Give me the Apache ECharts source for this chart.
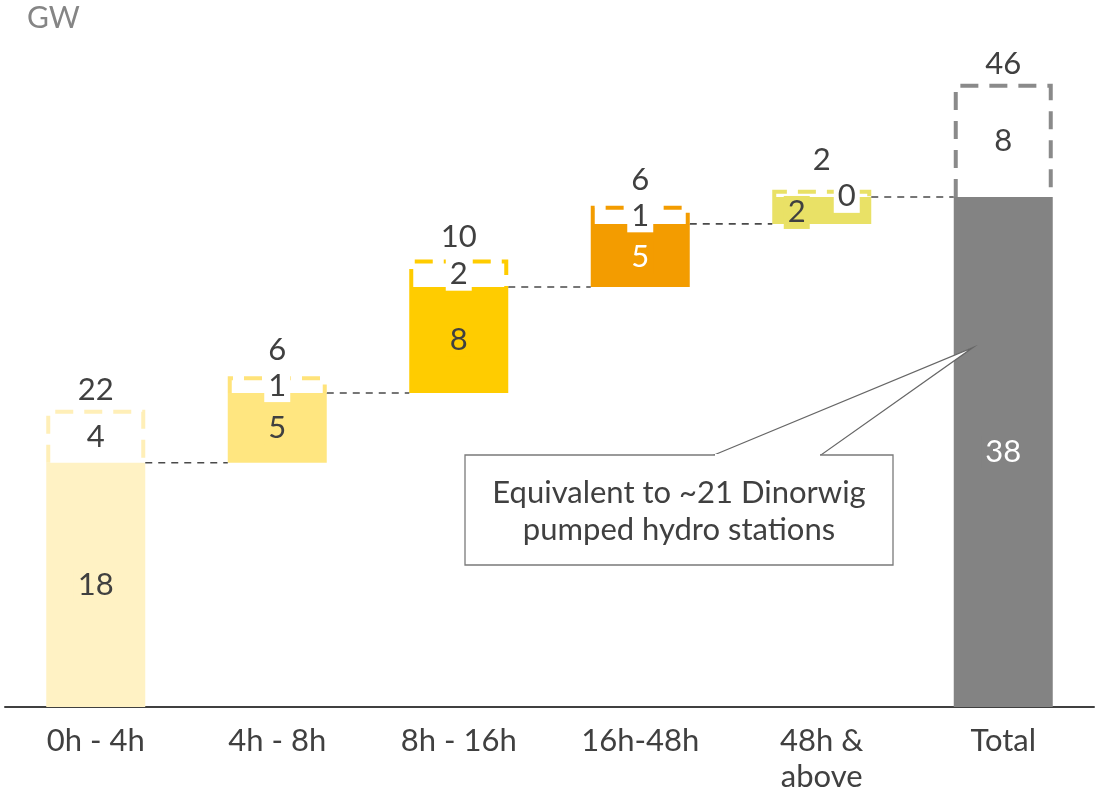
<!DOCTYPE html>
<html>
<head>
<meta charset="utf-8">
<title>Storage capacity by duration (GW)</title>
<script src="https://cdn.jsdelivr.net/npm/echarts@6/dist/echarts.min.js"></script>
<style>
  html, body { margin: 0; padding: 0; background: #ffffff; }
  #chart { width: 1102px; height: 795px; }
</style>
</head>
<body>
<div id="chart"></div>
<script>
// Duration buckets along the x axis
const categories = ['0h - 4h', '4h - 8h', '8h - 16h', '16h-48h', '48h &\nabove', 'Total'];
// Invisible offset each step floats on (GW)
const baseValues = [0, 18.2, 23.4, 31.3, 36.0, 0];
// Firm capacity per bucket (GW), solid bars
const firmValues = [18.2, 5.2, 7.9, 4.7, 2.0, 38];
// Additional potential capacity (GW), dashed boxes
const extraValues = [3.8, 1.1, 1.9, 1.2, 0.4, 8.3];

const fillColors = ['#FFF2C4', '#FFE680', '#FFCC00', '#F39C00', '#E9E166', '#838383'];
const dashColors = ['#FFEFB8', '#FFE37A', '#FFCC00', '#F39C00', '#E9E166', '#8A8A8A'];
const firmTextColors = ['#404040', '#404040', '#404040', '#ffffff', '#404040', '#ffffff'];
// Small step: labels pushed aside so they stay readable
const firmLabelOffsets = [[0, 0], [0, 0], [0, 0], [0, 2], [-25, 2], [0, 0]];
const extraLabelOffsets = [[0, 0], [0, 0], [0, 0], [0, 0], [25, 2], [0, 0]];
const totalLabelGaps = [22, 28, 24, 28, 32, 22];

const FONT = 'Lato, "Open Sans", "DejaVu Sans", sans-serif';
const FS = 31;
const BAR_W = 99;

const chart = echarts.init(document.getElementById('chart'), null, { renderer: 'canvas' });

const firmData = firmValues.map((v, i) => ({
  value: v,
  itemStyle: { color: fillColors[i] },
  label: {
    color: firmTextColors[i],
    backgroundColor: fillColors[i],
    offset: firmLabelOffsets[i]
  }
}));

// Dashed boxes: [category, bottom, top, amount]
const extraData = extraValues.map((v, i) => {
  const bottom = baseValues[i] + firmValues[i];
  return [i, bottom, bottom + v, v];
});

// Headline totals above each column: [category, top, amount]
const totalData = extraValues.map((v, i) => [i, baseValues[i] + firmValues[i] + v, firmValues[i] + v]);

// Connector levels between neighbouring columns
const connectorData = firmValues.slice(0, 5).map((v, i) => [i, baseValues[i] + v]);

const option = {
  animation: false,
  backgroundColor: '#ffffff',
  textStyle: { fontFamily: FONT },
  grid: { left: 5, right: 8, top: 36, bottom: 78 },
  xAxis: {
    type: 'category',
    data: categories,
    axisLine: { show: true, lineStyle: { color: '#404040', width: 2 } },
    axisTick: { show: false },
    axisLabel: {
      color: '#404040', fontSize: FS, fontFamily: FONT,
      margin: 16, lineHeight: 36, interval: 0
    }
  },
  yAxis: {
    type: 'value', min: 0, max: 50,
    show: false, splitLine: { show: false }
  },
  series: [
    {
      name: 'base', type: 'bar', stack: 'w', barWidth: BAR_W,
      data: baseValues,
      itemStyle: { color: 'transparent' },
      silent: true, z: 1
    },
    {
      name: 'firm', type: 'bar', stack: 'w', barWidth: BAR_W,
      data: firmData,
      z: 2,
      label: {
        show: true, position: 'inside',
        fontSize: FS, fontFamily: FONT,
        padding: [1, 4],
        formatter: p => String(Math.round(p.value))
      }
    },
    {
      name: 'extra', type: 'custom',
      data: extraData,
      z: 5,
      renderItem: function (params, api) {
        const i = api.value(0);
        const bottom = api.coord([i, api.value(1)]);
        const top = api.coord([i, api.value(2)]);
        const cx = bottom[0];
        const hw = BAR_W / 2 - 2;
        const off = extraLabelOffsets[i];
        return {
          type: 'group',
          children: [
            {
              type: 'polyline',
              shape: { points: [[cx - hw, bottom[1]], [cx - hw, top[1]], [cx + hw, top[1]], [cx + hw, bottom[1]]] },
              style: { stroke: dashColors[i], lineWidth: 4, lineDash: [18, 11], fill: null }
            },
            {
              type: 'text',
              z2: 10,
              style: {
                text: String(Math.round(api.value(3))),
                x: cx + off[0], y: (bottom[1] + top[1]) / 2 + off[1],
                align: 'center', verticalAlign: 'middle',
                font: FS + 'px ' + FONT, fill: '#404040',
                backgroundColor: '#ffffff', padding: [1, 4]
              }
            }
          ]
        };
      }
    },
    {
      name: 'connector', type: 'custom',
      data: connectorData,
      z: 3, silent: true,
      renderItem: function (params, api) {
        const i = api.value(0);
        const a = api.coord([i, api.value(1)]);
        const b = api.coord([i + 1, api.value(1)]);
        return {
          type: 'line',
          shape: { x1: a[0] + BAR_W / 2, y1: a[1], x2: b[0] - BAR_W / 2, y2: b[1] },
          style: { stroke: '#4a4a4a', lineWidth: 1.6, lineDash: [7, 6] }
        };
      }
    },
    {
      name: 'total', type: 'custom',
      data: totalData,
      z: 6, silent: true,
      renderItem: function (params, api) {
        const i = api.value(0);
        const p = api.coord([i, api.value(1)]);
        return {
          type: 'text',
          style: {
            text: String(Math.round(api.value(2))),
            x: p[0], y: p[1] - totalLabelGaps[i],
            align: 'center', verticalAlign: 'middle',
            font: FS + 'px ' + FONT, fill: '#404040'
          }
        };
      }
    }
  ]
};

chart.setOption(option);

// Callout pointing into the Total column
const tip = chart.convertToPixel({ gridIndex: 0 }, [5, 26.8]);
const tipX = tip[0] - 30, tipY = tip[1];
chart.setOption({
  graphic: [
    {
      type: 'text', left: 27, top: 3,
      style: { text: 'GW', font: '30px ' + FONT, fill: '#858585' }
    },
    {
      type: 'polygon', z: 20,
      shape: { points: [[714, 455], [tipX, tipY], [821, 455]] },
      style: { fill: '#ffffff', stroke: '#666666', lineWidth: 1.2 }
    },
    {
      type: 'rect', z: 21,
      shape: { x: 465, y: 455, width: 428, height: 110 },
      style: { fill: '#ffffff', stroke: '#7a7a7a', lineWidth: 1.3 }
    },
    {
      type: 'line', z: 22,
      shape: { x1: 715, y1: 455, x2: 820, y2: 455 },
      style: { stroke: '#ffffff', lineWidth: 2 }
    },
    {
      type: 'text', z: 23,
      style: {
        text: 'Equivalent to ~21 Dinorwig\npumped hydro stations',
        x: 679, y: 511, align: 'center', verticalAlign: 'middle',
        font: FS + 'px ' + FONT, fill: '#404040', lineHeight: 37
      }
    }
  ]
});
</script>
</body>
</html>
